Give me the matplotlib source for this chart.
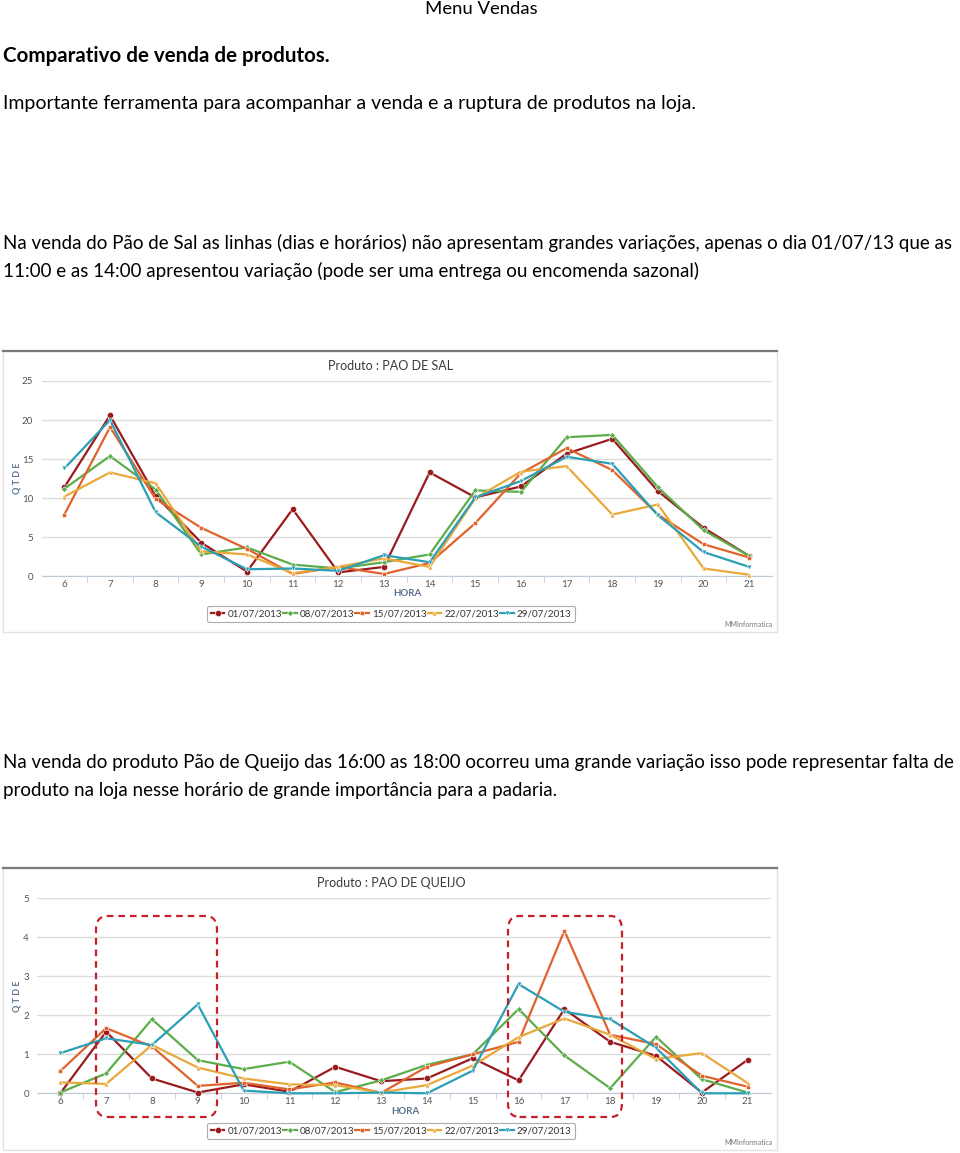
import matplotlib
matplotlib.use("Agg")
import matplotlib.pyplot as plt
from matplotlib.patches import FancyBboxPatch, Rectangle
from matplotlib.lines import Line2D

W, H = 960, 1153

hours = [6, 7, 8, 9, 10, 11, 12, 13, 14, 15, 16, 17, 18, 19, 20, 21]
dates = ["01/07/2013", "08/07/2013", "15/07/2013", "22/07/2013", "29/07/2013"]

# PAO DE SAL
sal_0107 = [11.4, 20.6, 10.3, 4.3, 0.6, 8.6, 0.5, 1.2, 13.3, 10.1, 11.5, 15.7, 17.6, 10.9, 6.2, 2.6]
sal_0807 = [11.2, 15.4, 11.1, 2.8, 3.7, 1.5, 1.0, 1.8, 2.8, 11.0, 10.8, 17.8, 18.1, 11.4, 5.9, 2.6]
sal_1507 = [7.9, 19.1, 9.9, 6.2, 3.5, 0.3, 1.2, 0.3, 1.7, 6.8, 13.2, 16.4, 13.6, 7.9, 4.1, 2.4]
sal_2207 = [10.2, 13.3, 11.9, 3.2, 2.8, 0.4, 1.2, 2.3, 1.2, 10.0, 13.4, 14.1, 7.9, 9.2, 1.0, 0.2]
sal_2907 = [13.8, 20.0, 8.2, 3.8, 0.9, 1.0, 0.7, 2.7, 1.8, 10.1, 12.2, 15.3, 14.4, 7.8, 3.1, 1.2]

# PAO DE QUEIJO
queijo_0107 = [0.0, 1.58, 0.38, 0.02, 0.23, 0.04, 0.68, 0.31, 0.38, 0.90, 0.33, 2.16, 1.32, 0.96, 0.02, 0.86]
queijo_0807 = [0.02, 0.51, 1.90, 0.85, 0.62, 0.81, 0.03, 0.33, 0.73, 1.00, 2.16, 0.97, 0.13, 1.45, 0.36, 0.02]
queijo_1507 = [0.57, 1.67, 1.20, 0.19, 0.27, 0.10, 0.28, 0.01, 0.68, 1.00, 1.32, 4.17, 1.50, 1.26, 0.45, 0.17]
queijo_2207 = [0.28, 0.24, 1.24, 0.66, 0.38, 0.23, 0.21, 0.02, 0.21, 0.71, 1.44, 1.92, 1.50, 0.88, 1.03, 0.26]
queijo_2907 = [1.03, 1.41, 1.24, 2.28, 0.07, 0.00, 0.00, 0.02, 0.00, 0.58, 2.80, 2.09, 1.90, 1.17, 0.00, 0.00]

colors = ["#9a1b1e", "#5cad4a", "#e0622c", "#e9a83a", "#2a9fb5"]
markers = ["o", "D", "s", "^", "v"]
msizes = [4.5, 3, 3, 3.5, 3.5]

FONT = "Lato"
LABEL_BLUE = "#5b7390"

fig = plt.figure(figsize=(W / 100, H / 100), dpi=100)
fig.patch.set_facecolor("white")


def fx(x):
    return x / W


def fy(y):
    return 1 - y / H


def ftext(x, y, s, **kw):
    kw.setdefault("family", FONT)
    kw.setdefault("color", "black")
    kw.setdefault("va", "baseline")
    fig.text(fx(x), fy(y), s, **kw)


# page text
ftext(425, 14, "Menu Vendas", fontsize=13.3)
ftext(3, 62, "Comparativo de venda de produtos.", fontsize=14.8, weight="bold")
ftext(3, 109, "Importante ferramenta para acompanhar a venda e a ruptura de produtos na loja.", fontsize=14.05)
ftext(3, 249, "Na venda do Pão de Sal as linhas (dias e horários) não apresentam grandes variações, apenas o dia 01/07/13 que as", fontsize=13.53)
ftext(3, 277, "11:00 e as 14:00 apresentou variação (pode ser uma entrega ou encomenda sazonal)", fontsize=13.53)
ftext(3, 768, "Na venda do produto Pão de Queijo das 16:00 as 18:00 ocorreu uma grande variação isso pode representar falta de", fontsize=13.5)
ftext(3, 796, "produto na loja nesse horário de grande importância para a padaria.", fontsize=13.5)


def draw_chart(top, bottom, ax_left, ax_right, y0px, ytoppx, hora_x, hora_y,
               ymax, ystep, title, series):
    frame = Rectangle((fx(3), fy(bottom)), fx(774), (bottom - top) / H,
                      transform=fig.transFigure, facecolor="white",
                      edgecolor="#e2e2e2", linewidth=1.0, zorder=-10)
    fig.patches.append(frame)
    fig.add_artist(Line2D([fx(3), fx(777)], [fy(top), fy(top)], color="#7a7a7a",
                          linewidth=1.6, transform=fig.transFigure, zorder=-5))
    ax = fig.add_axes([fx(ax_left), fy(y0px), fx(ax_right - ax_left), (y0px - ytoppx) / H])
    ax.set_facecolor("none")
    for i, (vals, lab) in enumerate(zip(series, dates)):
        ax.plot(hours, vals, color=colors[i], marker=markers[i], markersize=msizes[i],
                linewidth=1.6, label=lab, markeredgecolor="white", markeredgewidth=0.4,
                zorder=3 + i, clip_on=False)
    ax.set_xlim(5.5, 21.5)
    ax.set_ylim(0, ymax)
    ax.set_yticks([v * ystep for v in range(int(ymax / ystep) + 1)])
    ax.set_xticks(hours)
    ax.set_xticks([h + 0.5 for h in hours[:-1]], minor=True)
    ax.grid(axis="y", color="#dcdcdc", linewidth=1.0)
    ax.set_axisbelow(True)
    for s in ["top", "right", "left"]:
        ax.spines[s].set_visible(False)
    ax.spines["bottom"].set_color("#c0cad6")
    ax.tick_params(axis="x", which="major", length=0, pad=2.5, labelsize=7, labelcolor="#555555")
    ax.tick_params(axis="x", which="minor", length=4, color="#c0cad6")
    ax.tick_params(axis="y", length=0, pad=6, labelsize=7, labelcolor="#555555")
    for lbl in ax.get_xticklabels() + ax.get_yticklabels():
        lbl.set_family(FONT)
    ax.set_ylabel("Q T D E", color=LABEL_BLUE, fontsize=6.5, weight="bold", family=FONT)
    ax.set_xlabel("HORA", color=LABEL_BLUE, fontsize=7, weight="bold", family=FONT)
    wpx = ax_right - ax_left
    hpx = y0px - ytoppx
    ax.yaxis.set_label_coords((17 - ax_left) / wpx, 0.5)
    ax.xaxis.set_label_coords((hora_x - ax_left) / wpx, -(hora_y - y0px) / hpx)
    ax.xaxis.label.set_va("center")
    ax.yaxis.label.set_va("center")
    fig.text(fx(391), fy(top + 19), title, ha="center", va="baseline", fontsize=9,
             family=FONT, color="#3a3a3a")
    leg = ax.legend(loc="center", bbox_to_anchor=(fx(391), fy(top + 263)),
                    bbox_transform=fig.transFigure, ncol=5,
                    handlelength=1.4, handletextpad=0.3, columnspacing=0.1,
                    borderpad=0.35, frameon=True, fancybox=True,
                    prop={"family": FONT, "size": 7.1})
    leg.get_frame().set_edgecolor("#999999")
    leg.get_frame().set_linewidth(0.8)
    for t in leg.get_texts():
        t.set_color("#333333")
    fig.text(fx(773), fy(bottom - 5), "MMInformatica", ha="right", va="baseline",
             fontsize=5, family=FONT, color="#777777")
    return ax


draw_chart(351, 632, 41.5, 772.1, 576.3, 381.0, 407, 594, 25, 5, "Produto : PAO DE SAL",
           [sal_0107, sal_0807, sal_1507, sal_2207, sal_2907])
draw_chart(868, 1150, 37.4, 770.6, 1093.3, 898.3, 405, 1111, 5, 1, "Produto : PAO DE QUEIJO",
           [queijo_0107, queijo_0807, queijo_1507, queijo_2207, queijo_2907])

# red dashed highlight boxes on the cheese chart
for (x0, x1) in [(96, 217), (508, 622)]:
    box = FancyBboxPatch((fx(x0), fy(1117)), fx(x1 - x0), (1117 - 916) / H,
                         boxstyle="round,pad=0,rounding_size=0.012",
                         transform=fig.transFigure, facecolor="none",
                         edgecolor="#c8202a", linewidth=1.6, linestyle=(0, (3, 2.2)),
                         zorder=10)
    fig.patches.append(box)

fig.savefig("out.png", dpi=100, facecolor="white")
